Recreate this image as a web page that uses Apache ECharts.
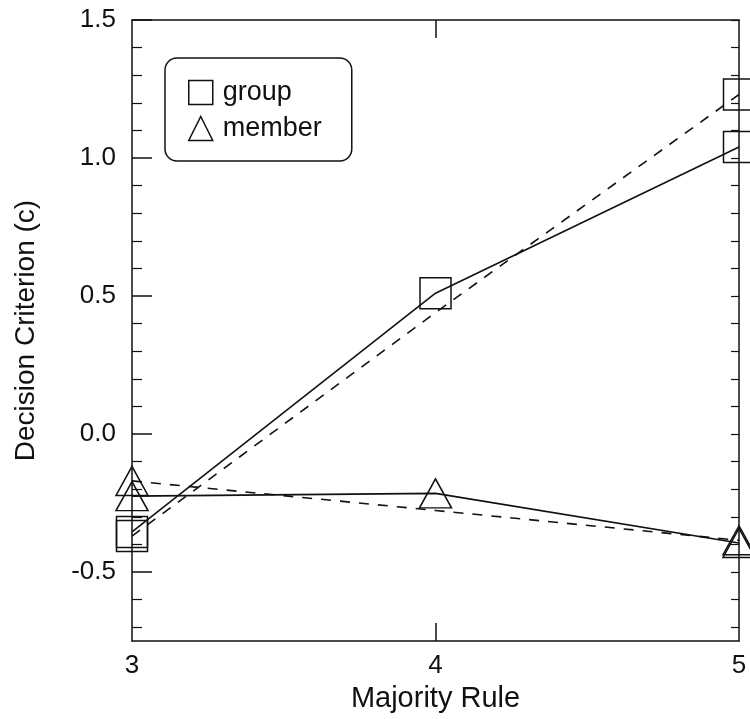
<!DOCTYPE html>
<html>
<head>
<meta charset="utf-8">
<script src="https://cdn.jsdelivr.net/npm/echarts@6/dist/echarts.min.js"></script>
<style>
  html, body { margin: 0; padding: 0; background: #fff; }
  #chart { width: 750px; height: 719px; }
</style>
</head>
<body>
<div id="chart"></div>
<script>
// data
var majorityRule = [3, 4, 5];
var groupSolid = [-0.355, 0.51, 1.04];
var groupDashed = [-0.37, 0.44, 1.23];
var memberSolid = [-0.225, -0.215, -0.395];
var memberDashed = [-0.17, -0.277, -0.385];
var yLabels = [-0.5, 0, 0.5, 1.0, 1.5];
var yMinor = [-0.7, -0.6, -0.4, -0.3, -0.2, -0.1, 0.1, 0.2, 0.3, 0.4, 0.6, 0.7, 0.8, 0.9, 1.1, 1.2, 1.3, 1.4];
var yAll = yLabels.concat(yMinor);
var xMajorTicks = [4];

function pairs(ys){
    return majorityRule.map(function(x, i){ return [x, ys[i]]; });
}

var font = "'Liberation Sans', Arial, sans-serif";
var black = '#111';
var markerStyle = { color: 'rgba(0,0,0,0)', borderColor: black, borderWidth: 1.5 };
var sqSize = 31, triSize = [32, 29];
// dashed lines carry markers only at the ends
function endOnly(shape){
    return function(v){ return v[0] === 4 ? 'none' : shape; };
}

var myChart = echarts.init(document.getElementById('chart'));
var option = {
    backgroundColor: '#fff',
    animation: false,
    grid: { left: 132, right: 11, top: 20, bottom: 78 },
    legend: {
        orient: 'vertical',
        left: 165,
        top: 58,
        padding: [21, 30, 19, 23],
        itemGap: 9,
        itemWidth: 24,
        itemHeight: 24,
        borderColor: black,
        borderWidth: 1.5,
        borderRadius: 12,
        selectedMode: false,
        textStyle: { fontFamily: font, fontSize: 27, color: black, padding: [0, 0, 0, 5] },
        data: [
            { name: 'group', icon: 'rect', itemStyle: markerStyle },
            { name: 'member', icon: 'triangle', itemStyle: markerStyle }
        ]
    },
    xAxis: [
        {
            type: 'value', min: 3, max: 5, interval: 1,
            name: 'Majority Rule', nameLocation: 'middle', nameGap: 43,
            nameTextStyle: { fontFamily: font, fontSize: 29, color: black },
            axisLine: { onZero: false, lineStyle: { color: black, width: 1.5 } },
            axisTick: { inside: true, length: 18, customValues: xMajorTicks, lineStyle: { color: black, width: 1.5 } },
            axisLabel: { fontFamily: font, fontSize: 26, color: black, margin: 12 },
            splitLine: { show: false }
        },
        {
            type: 'value', min: 3, max: 5, interval: 1, position: 'top',
            axisLine: { onZero: false, lineStyle: { color: black, width: 1.5 } },
            axisTick: { inside: true, length: 18, customValues: xMajorTicks, lineStyle: { color: black, width: 1.5 } },
            axisLabel: { show: false },
            splitLine: { show: false }
        }
    ],
    yAxis: [
        {
            type: 'value', min: -0.75, max: 1.5,
            name: 'Decision Criterion (c)', nameLocation: 'middle', nameGap: 92,
            nameTextStyle: { fontFamily: font, fontSize: 28, color: black },
            axisLine: { show: true, onZero: false, lineStyle: { color: black, width: 1.5 } },
            axisTick: { inside: true, length: 20, customValues: yLabels, lineStyle: { color: black, width: 1.5 } },
            axisLabel: {
                fontFamily: font, fontSize: 26, color: black, margin: 16,
                customValues: yLabels,
                formatter: function(v){ return v.toFixed(1); }
            },
            splitLine: { show: false }
        },
        {
            type: 'value', min: -0.75, max: 1.5, position: 'left',
            axisLine: { show: false, onZero: false },
            axisTick: { inside: true, length: 10, customValues: yMinor, lineStyle: { color: black, width: 1.2 } },
            axisLabel: { show: false },
            splitLine: { show: false }
        },
        {
            type: 'value', min: -0.75, max: 1.5, position: 'right',
            axisLine: { show: true, onZero: false, lineStyle: { color: black, width: 1.5 } },
            axisTick: { inside: true, length: 8, customValues: yAll, lineStyle: { color: black, width: 1.2 } },
            axisLabel: { show: false },
            splitLine: { show: false }
        }
    ],
    series: [
        {
            name: 'group', type: 'line', data: pairs(groupSolid), clip: false,
            symbol: 'rect', symbolSize: sqSize,
            lineStyle: { color: black, width: 1.6 },
            itemStyle: markerStyle
        },
        {
            name: 'group fit', type: 'line', data: pairs(groupDashed), clip: false,
            symbol: endOnly('rect'), symbolSize: sqSize,
            lineStyle: { color: black, width: 1.6, type: [10, 9] },
            itemStyle: markerStyle
        },
        {
            name: 'member', type: 'line', data: pairs(memberSolid), clip: false,
            symbol: 'triangle', symbolSize: triSize,
            lineStyle: { color: black, width: 1.6 },
            itemStyle: markerStyle
        },
        {
            name: 'member fit', type: 'line', data: pairs(memberDashed), clip: false,
            symbol: endOnly('triangle'), symbolSize: triSize,
            lineStyle: { color: black, width: 1.6, type: [10, 9] },
            itemStyle: markerStyle
        }
    ]
};
myChart.setOption(option);
</script>
</body>
</html>
